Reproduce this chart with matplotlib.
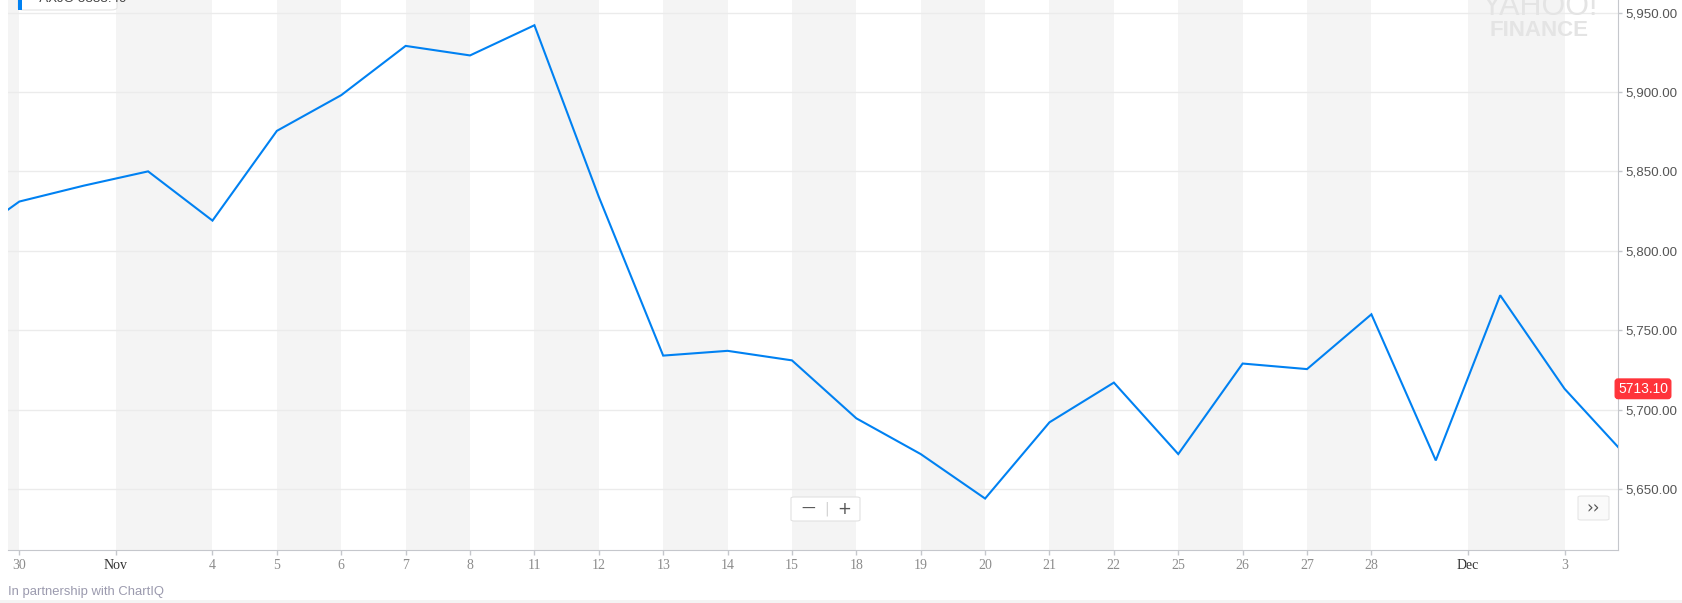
import matplotlib
matplotlib.use("Agg")
import matplotlib.pyplot as plt
from matplotlib.patches import FancyBboxPatch, Rectangle

# session index -> close (index -1 and 25 run off the edges of the view)
sessions = list(range(-1, 26))
closes = [5802, 5831, 5841, 5850, 5819, 5875.5, 5898, 5929, 5923, 5942,
          5834, 5734, 5737, 5731, 5694.5, 5672, 5644, 5692, 5717, 5672,
          5729, 5725.5, 5760, 5668, 5772, 5713.1, 5669]

tick_pos = [0, 1.5, 3, 4, 5, 6, 7, 8, 9, 10, 11, 12, 13, 14, 15, 16, 17,
            18, 19, 20, 21, 22.5, 24]
tick_labels = ["30", "Nov", "4", "5", "6", "7", "8", "11", "12", "13", "14",
               "15", "18", "19", "20", "21", "22", "25", "26", "27", "28",
               "Dec", "3"]
y_ticks = [5650, 5700, 5750, 5800, 5850, 5900, 5950]
last_price = 5713.10
symbol_text = "^AXJO 5833.40"

W, H = 1682, 603
fig = plt.figure(figsize=(W / 100, H / 100), dpi=100)
fig.patch.set_facecolor("white")

x0, x1 = 8, 1618
y_bot, y_top = 550, 0
ax = fig.add_axes([x0 / W, 1 - y_bot / H, (x1 - x0) / W, (y_bot - y_top) / H])

xmin, xmax = -0.176, 24.83
ymin, ymax = 5611.6, 5957.9
ax.set_xlim(xmin, xmax)
ax.set_ylim(ymin, ymax)

# alternating column shading between the date ticks
edges = [xmin] + tick_pos + [xmax]
for k in range(len(edges) - 1):
    if k % 2 == 0:
        ax.axvspan(edges[k], edges[k + 1], color="#f4f4f4", lw=0, zorder=0)

for v in y_ticks:
    ax.axhline(v, color="#ebebeb", lw=1, zorder=1)

ax.plot(sessions, closes, color="#0081f2", lw=1.5, zorder=3,
        solid_joinstyle="miter")

# watermark
ax.text(0.951, 1 - 15 / 550, "YAHOO!", transform=ax.transAxes, ha="center",
        va="baseline", fontsize=22, color="#e4e4e4", family="Liberation Sans",
        zorder=2)
ax.text(0.951, 1 - 30 / 550, "FINANCE", transform=ax.transAxes, ha="center",
        va="center", fontsize=16, fontweight="bold", color="#e4e4e4",
        family="Liberation Sans", zorder=2)

for s in ["top", "left"]:
    ax.spines[s].set_visible(False)
ax.spines["bottom"].set_color("#c5c7cc")
ax.spines["right"].set_color("#c5c7cc")

ax.set_xticks(tick_pos)
ax.set_xticklabels(tick_labels, family="Liberation Serif", fontsize=10)
for lab in ax.get_xticklabels():
    lab.set_color("#333333" if lab.get_text() in ("Nov", "Dec") else "#8c8c8c")
ax.tick_params(axis="x", length=3.6, width=1, color="#c5c7cc", pad=3)

ax.yaxis.tick_right()
ax.set_yticks(y_ticks)
ax.set_yticklabels([f"{v:,.2f}" for v in y_ticks], family="Liberation Sans",
                   fontsize=9.6, color="#555555")
ax.tick_params(axis="y", length=3, width=1, color="#c5c7cc", pad=2.5)

# current price flag
ax.text(1.0, last_price, f"{last_price:.2f}", transform=ax.get_yaxis_transform(),
        ha="left", va="center", fontsize=10, color="white",
        family="Liberation Sans", clip_on=False, zorder=5,
        bbox=dict(boxstyle="round,pad=0.2,rounding_size=0.2", fc="#ff333a",
                  ec="#ff333a"))

# legend chip at top left (mostly cut off by the frame top)
fig.patches.append(FancyBboxPatch((18 / W, 1 - 10 / H), 99 / W, 20 / H,
                                  boxstyle="round,pad=0,rounding_size=0.004",
                                  transform=fig.transFigure, fc="white",
                                  ec="#e4e4e4", lw=0.8, zorder=6))
fig.patches.append(Rectangle((18 / W, 1 - 10 / H), 4 / W, 10 / H,
                             transform=fig.transFigure, fc="#0081f2",
                             ec="none", zorder=7))
fig.text(33 / W, 1 + 1 / H, symbol_text, ha="left", va="center",
         fontsize=9.6, color="#444444", family="Liberation Sans", zorder=8)

# zoom buttons
fig.patches.append(FancyBboxPatch((791 / W, 1 - 521 / H), 69 / W, 24 / H,
                                  boxstyle="round,pad=0,rounding_size=0.002",
                                  transform=fig.transFigure, fc="white",
                                  ec="#e2e2e2", lw=0.8, zorder=6))
fig.text(808 / W, 1 - 509 / H, "\u2014", ha="center", va="center",
         fontsize=10, color="#555555", zorder=7)
fig.text(827 / W, 1 - 509 / H, "|", ha="center", va="center",
         fontsize=10, color="#d0d0d0", zorder=7)
fig.text(844 / W, 1 - 509 / H, "+", ha="center", va="center",
         fontsize=12, color="#555555", zorder=7)

fig.patches.append(FancyBboxPatch((1578 / W, 1 - 520 / H), 31 / W, 24 / H,
                                  boxstyle="round,pad=0,rounding_size=0.002",
                                  transform=fig.transFigure, fc="#fafafa",
                                  ec="#e6e6e6", lw=0.8, zorder=6))
fig.text(1593 / W, 1 - 508 / H, "\u203a\u203a", ha="center", va="center",
         fontsize=12, color="#555555", zorder=7)

fig.text(8 / W, 1 - 592 / H, "In partnership with ChartIQ", ha="left",
         va="center", fontsize=9.4, color="#9b9aae", family="Liberation Sans")
fig.patches.append(Rectangle((0, 0), 1, 3 / H, transform=fig.transFigure,
                             fc="#f4f4f4", ec="none"))

fig.savefig("out.png", dpi=100)
